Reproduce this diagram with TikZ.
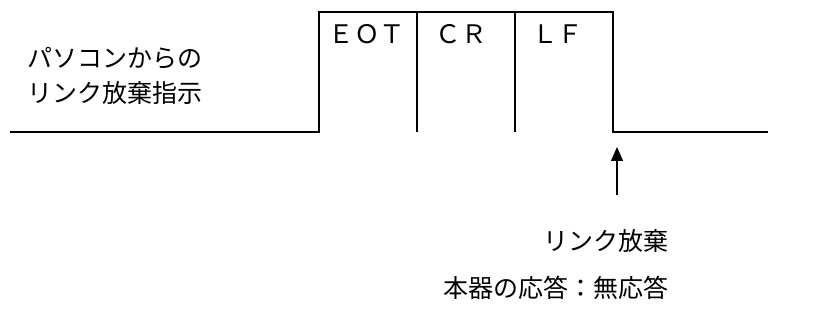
\documentclass[tikz,border=0pt]{standalone}
\usepackage{fontspec}
\newfontfamily\jpfont{Noto Sans CJK JP}
\usetikzlibrary{arrows.meta}
\begin{document}
\begin{tikzpicture}[x=1pt,y=-1pt,
  wave/.style={line width=1.3pt,line join=miter},
  lbl/.style={inner sep=0pt,font=\jpfont\fontsize{25}{30}\selectfont},
  sig/.style={inner sep=0pt,font=\jpfont\fontsize{25.5}{30}\selectfont}]
\useasboundingbox (0,0) rectangle (826,336);
\coordinate (L0) at (10,132);
\coordinate (R1) at (319,132);
\coordinate (T1) at (319,12);
\coordinate (T2) at (613,12);
\coordinate (F1) at (613,132);
\coordinate (E0) at (768,132);
\coordinate (D1t) at (417,12);
\coordinate (D1b) at (417,132);
\coordinate (D2t) at (515,12);
\coordinate (D2b) at (515,132);
\draw[wave] (L0) -- (R1) -- (T1) -- (T2) -- (F1) -- (E0);
\draw[wave] (D1t) -- (D1b);
\draw[wave] (D2t) -- (D2b);
\node[sig] (eot) at (367,34) {ＥＯＴ};
\node[sig] (cr) at (461,34) {ＣＲ};
\node[sig] (lf) at (557.5,34) {ＬＦ};
\node[lbl,anchor=west] (pc1) at (27,58) {パソコンからの};
\node[lbl,anchor=west] (pc2) at (27,93) {リンク放棄指示};
\coordinate (atail) at (617,195);
\coordinate (ahead) at (617,147);
\draw[line width=1.3pt,-{Triangle[length=14pt,width=12pt]}] (atail) -- (ahead);
\node[lbl,anchor=east] (rel) at (669,241) {リンク放棄};
\node[lbl,anchor=east] (resp) at (669,288) {本器の応答：無応答};
\end{tikzpicture}
\end{document}
